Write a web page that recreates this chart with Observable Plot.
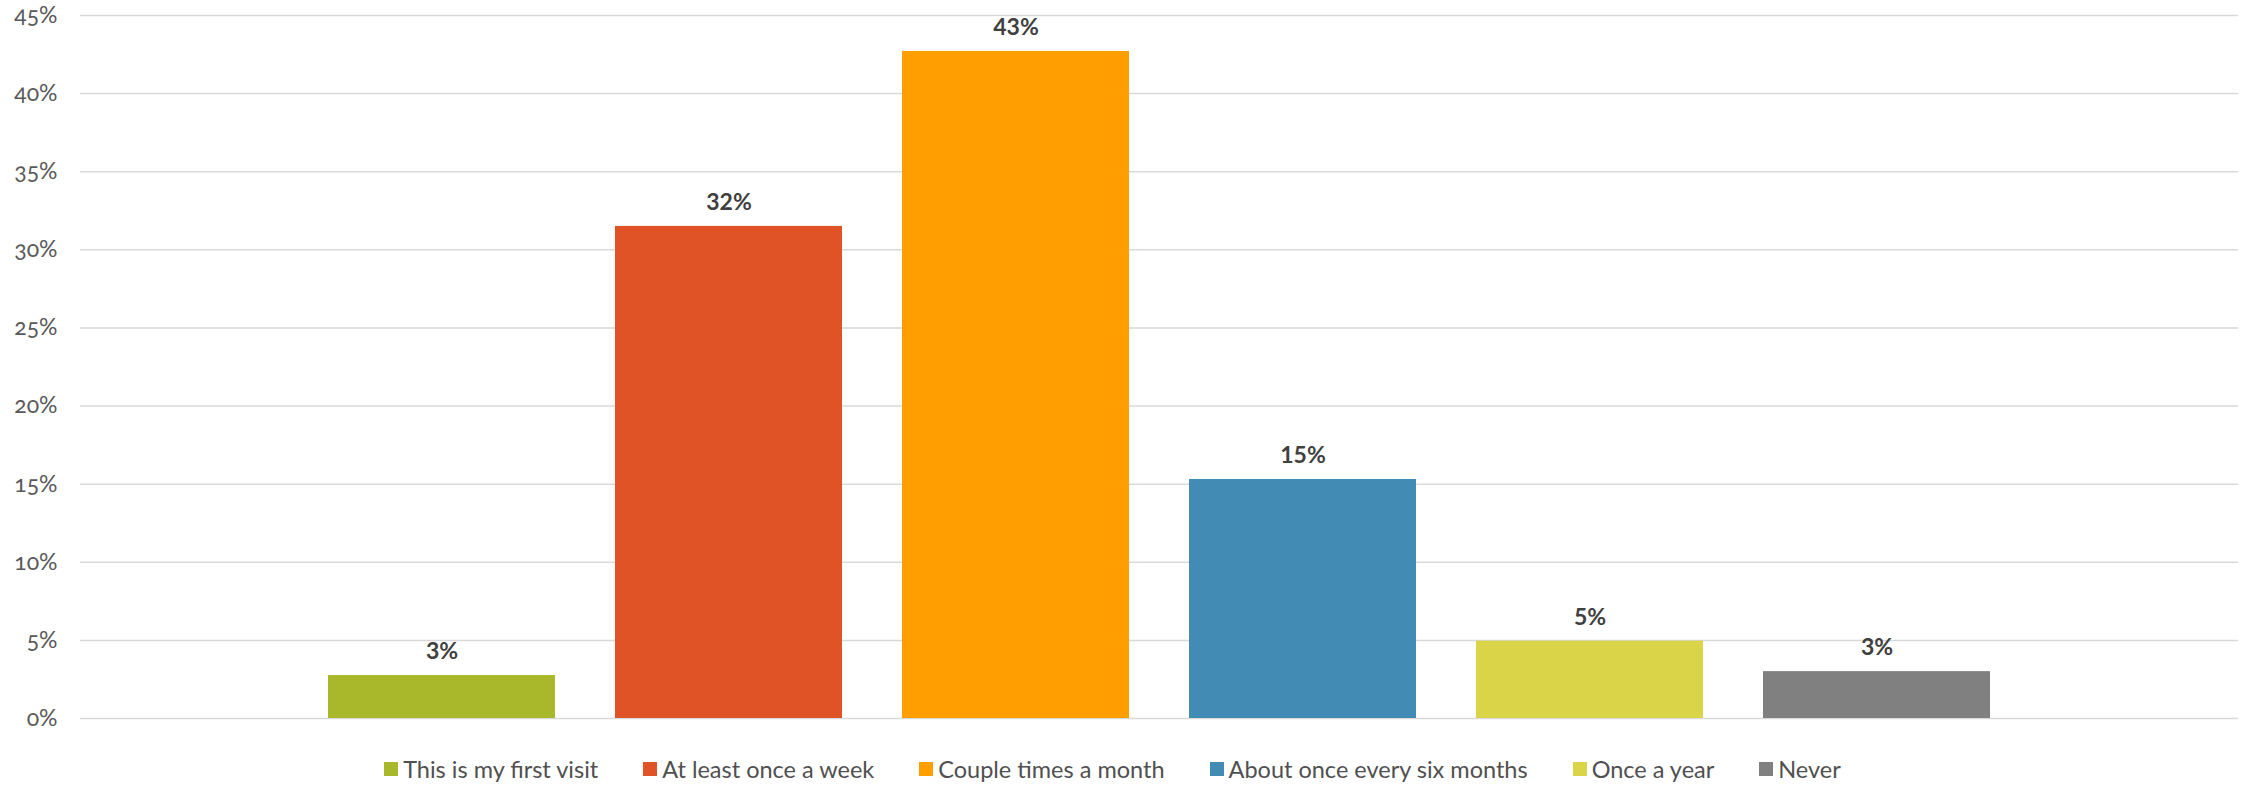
<!DOCTYPE html>
<html>
<head>
<meta charset="utf-8">
<script src="https://cdn.jsdelivr.net/npm/d3@7"></script>
<script src="https://cdn.jsdelivr.net/npm/@observablehq/plot@0.6"></script>
<style>
  html, body { margin: 0; padding: 0; background: #fff; }
  #chart { width: 2247px; }
  .lg-swatches {
    font-family: Lato, "Open Sans", sans-serif;
    font-size: 23.5px;
    color: #505050;
    justify-content: center;
    margin-top: 14px;
    min-height: 30px;
    margin-bottom: 0;
    padding-right: 22px;
  }
  .lg-swatch { margin-right: 45px; }
  .lg-swatch:last-child { margin-right: 0; }
  .lg-swatch > svg { margin-right: 5px; }
</style>
</head>
<body>
<div id="chart"></div>
<script>
const categories = [
  "This is my first visit",
  "At least once a week",
  "Couple times a month",
  "About once every six months",
  "Once a year",
  "Never"
];
const values = [2.75, 31.5, 42.7, 15.3, 4.95, 3.0];
const valueLabels = ["3%", "32%", "43%", "15%", "5%", "3%"];
const colors = ["#A8B82A", "#E05326", "#FF9E00", "#418BB4", "#DAD448", "#808080"];
const yTicks = [0, 5, 10, 15, 20, 25, 30, 35, 40, 45];
const yTickLabels = ["0%", "5%", "10%", "15%", "20%", "25%", "30%", "35%", "40%", "45%"];

const data = categories.map((c, i) => ({category: c, value: values[i], label: valueLabels[i]}));

const chart = Plot.plot({
  width: 2247,
  height: 740,
  marginLeft: 80,
  marginRight: 9,
  marginTop: 15,
  marginBottom: 22,
  style: {fontFamily: "Lato, 'Open Sans', sans-serif", fontSize: "23px", background: "#fff"},
  x: {domain: categories, paddingInner: 0.21, paddingOuter: 0.864, axis: null},
  y: {domain: [0, 45], axis: null},
  color: {domain: categories, range: colors},
  marks: [
    Plot.gridY(yTicks, {stroke: "#d9d9d9", strokeOpacity: 1, strokeWidth: 1.5}),
    Plot.axisY(yTicks, {
      tickSize: 0,
      tickPadding: 23,
      label: null,
      tickFormat: d => yTickLabels[yTicks.indexOf(d)],
      fill: "#595959",
      fontSize: 23,
      fontVariant: "oldstyle-nums"
    }),
    Plot.barY(data, {x: "category", y: "value", fill: "category"}),
    Plot.text(data, {
      x: "category",
      y: "value",
      text: "label",
      dy: -24,
      fill: "#404040",
      fontWeight: "bold",
      fontSize: 23
    })
  ]
});

const legend = chart.legend("color", {
  legend: "swatches",
  swatchSize: 14,
  className: "lg"
});

const root = document.getElementById("chart");
root.appendChild(chart);
root.appendChild(legend);
</script>
</body>
</html>
